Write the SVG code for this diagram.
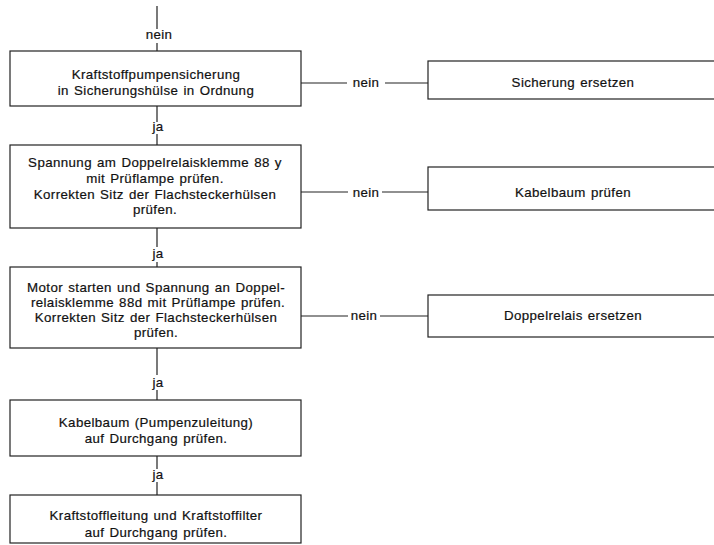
<svg xmlns="http://www.w3.org/2000/svg" width="714" height="545" viewBox="0 0 714 545">
<style>
.box{fill:#fff;stroke:#222;stroke-width:1.2}
.ln{stroke:#222;stroke-width:1.2;fill:none}
text{font-family:"Liberation Sans",Arial,sans-serif;font-size:13.3px;fill:#111;stroke:#111;stroke-width:0.2;text-anchor:middle;letter-spacing:0.4px;word-spacing:1px}
</style>
<rect width="714" height="545" fill="#fff"/>
<g id="connectors">
<path class="ln" d="M157 6V29M157 43V51M157 106V122M157 134V145M157 228V247M157 262V267M157 348V375M157 390V400M157 456V469M157 482V495"/>
<path class="ln" d="M301 83H347M385 83H428M301 192H348M382 192H428M301 316H348M380 316H428"/>
<text x="159" y="39">nein</text>
<text x="158" y="131">ja</text>
<text x="158" y="258">ja</text>
<text x="158" y="387">ja</text>
<text x="158" y="479">ja</text>
<text x="366" y="87">nein</text>
<text x="366" y="197">nein</text>
<text x="364" y="320">nein</text>
</g>
<g id="n1"><rect class="box" x="10" y="51" width="291" height="55"/>
<text x="156" y="79">Kraftstoffpumpensicherung</text>
<text x="156" y="95">in Sicherungshülse in Ordnung</text></g>
<g id="n2"><rect class="box" x="10" y="145" width="291" height="83"/>
<text x="155" y="167">Spannung am Doppelrelaisklemme 88 y</text>
<text x="155" y="183">mit Prüflampe prüfen.</text>
<text x="155" y="199">Korrekten Sitz der Flachsteckerhülsen</text>
<text x="155" y="214">prüfen.</text></g>
<g id="n3"><rect class="box" x="10" y="267" width="291" height="81"/>
<text x="156" y="292" textLength="258" lengthAdjust="spacing">Motor starten und Spannung an Doppel-</text>
<text x="158" y="307">relaisklemme 88d mit Prüflampe prüfen.</text>
<text x="156" y="322">Korrekten Sitz der Flachsteckerhülsen</text>
<text x="156" y="337">prüfen.</text></g>
<g id="n4"><rect class="box" x="10" y="400" width="291" height="56"/>
<text x="156" y="427">Kabelbaum (Pumpenzuleitung)</text>
<text x="156" y="443">auf Durchgang prüfen.</text></g>
<g id="n5"><rect class="box" x="10" y="495" width="291" height="48"/>
<text x="156" y="520">Kraftstoffleitung und Kraftstoffilter</text>
<text x="156" y="537">auf Durchgang prüfen.</text></g>
<g id="r1"><rect class="box" x="428" y="61" width="300" height="38"/>
<text x="573" y="87">Sicherung ersetzen</text></g>
<g id="r2"><rect class="box" x="428" y="167" width="300" height="43"/>
<text x="573" y="197">Kabelbaum prüfen</text></g>
<g id="r3"><rect class="box" x="428" y="295" width="300" height="42"/>
<text x="573" y="320">Doppelrelais ersetzen</text></g>
</svg>
